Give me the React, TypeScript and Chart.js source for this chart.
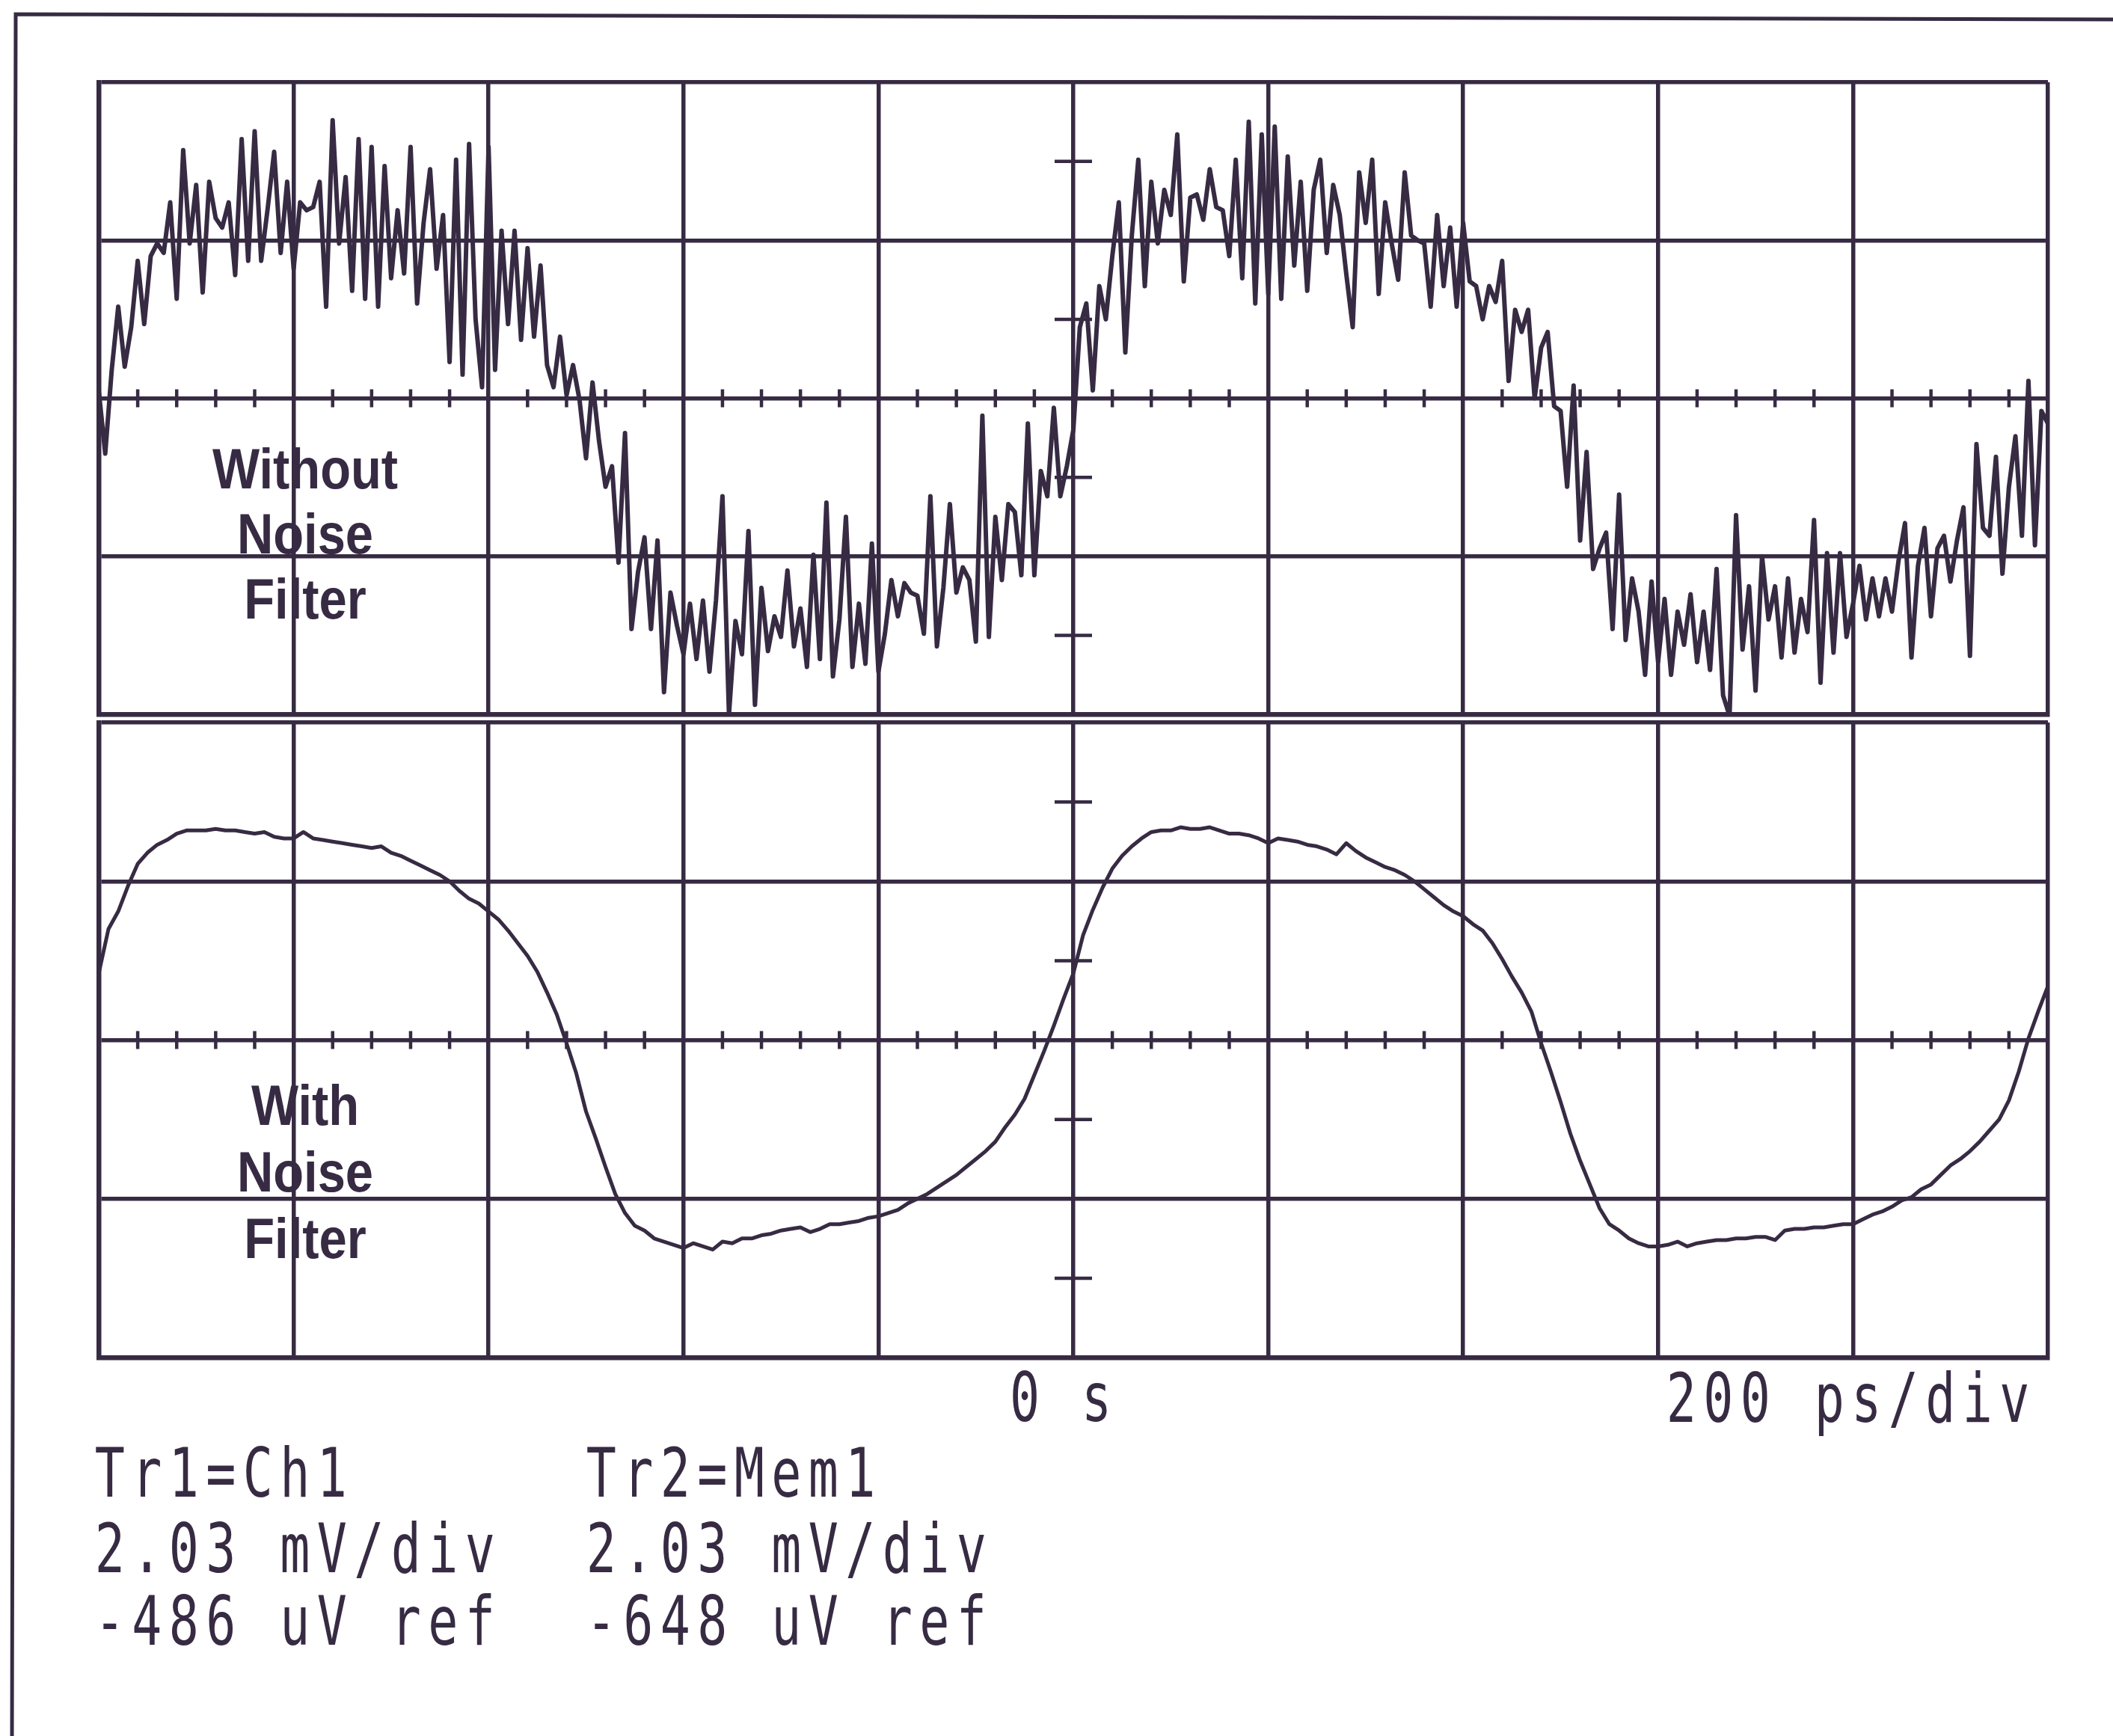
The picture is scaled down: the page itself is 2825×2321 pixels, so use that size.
import React, { useEffect, useRef } from 'react';
import { Chart, registerables } from 'chart.js';

Chart.register(...registerables);

// ---------- data (vertical values in divisions, relative to each graticule's centre line) ----------
// Trace 1 (Tr1 = Ch1, "Without Noise Filter"): 301 samples across 10 divisions
const topTraceValues = [
  0.05, -0.35, 0.18, 0.58, 0.2, 0.45, 0.87, 0.47, 0.9, 0.98,
  0.92, 1.24, 0.63, 1.57, 0.98, 1.35, 0.67, 1.37, 1.14, 1.08,
  1.24, 0.78, 1.64, 0.87, 1.69, 0.87, 1.2, 1.56, 0.92, 1.37,
  0.82, 1.24, 1.19, 1.21, 1.37, 0.58, 1.76, 0.98, 1.4, 0.68,
  1.64, 0.63, 1.59, 0.58, 1.47, 0.76, 1.19, 0.79, 1.59, 0.6,
  1.11, 1.45, 0.82, 1.16, 0.23, 1.51, 0.15, 1.61, 0.5, 0.07,
  1.59, 0.18, 1.06, 0.47, 1.06, 0.37, 0.95, 0.39, 0.84, 0.21,
  0.07, 0.39, 0.02, 0.21, -0.01, -0.38, 0.1, -0.27, -0.56, -0.43,
  -1.04, -0.22, -1.46, -1.1, -0.88, -1.46, -0.9, -1.86, -1.23, -1.44,
  -1.62, -1.3, -1.65, -1.28, -1.73, -1.28, -0.62, -2.0, -1.41, -1.62,
  -0.84, -1.94, -1.2, -1.6, -1.38, -1.51, -1.09, -1.57, -1.33, -1.7,
  -0.99, -1.65, -0.66, -1.76, -1.4, -0.75, -1.7, -1.3, -1.68, -0.92,
  -1.73, -1.49, -1.15, -1.38, -1.17, -1.23, -1.25, -1.49, -0.62, -1.57,
  -1.2, -0.67, -1.23, -1.07, -1.15, -1.54, -0.11, -1.51, -0.75, -1.15,
  -0.67, -0.72, -1.12, -0.16, -1.12, -0.46, -0.62, -0.06, -0.62, -0.43,
  -0.2, 0.45, 0.6, 0.05, 0.71, 0.5, 0.9, 1.24, 0.29, 1.03,
  1.51, 0.71, 1.37, 0.98, 1.32, 1.16, 1.67, 0.74, 1.27, 1.29,
  1.13, 1.45, 1.21, 1.19, 0.9, 1.51, 0.76, 1.75, 0.6, 1.67,
  0.66, 1.72, 0.63, 1.53, 0.84, 1.37, 0.68, 1.32, 1.51, 0.92,
  1.35, 1.16, 0.79, 0.45, 1.43, 1.11, 1.51, 0.66, 1.24, 0.98,
  0.75, 1.43, 1.03, 1.0, 0.98, 0.58, 1.16, 0.71, 1.08, 0.58,
  1.11, 0.74, 0.71, 0.5, 0.71, 0.61, 0.87, 0.11, 0.56, 0.42,
  0.56, 0.0, 0.32, 0.42, -0.05, -0.08, -0.56, 0.08, -0.9, -0.34,
  -1.08, -0.95, -0.85, -1.46, -0.61, -1.53, -1.14, -1.35, -1.75, -1.16,
  -1.67, -1.27, -1.75, -1.35, -1.56, -1.24, -1.67, -1.35, -1.72, -1.08,
  -1.88, -2.01, -0.74, -1.59, -1.19, -1.85, -1.0, -1.4, -1.19, -1.64,
  -1.14, -1.61, -1.27, -1.48, -0.77, -1.8, -0.98, -1.61, -0.98, -1.51,
  -1.3, -1.06, -1.4, -1.14, -1.38, -1.14, -1.35, -1.03, -0.79, -1.64,
  -1.06, -0.82, -1.38, -0.95, -0.87, -1.16, -0.9, -0.69, -1.63, -0.29,
  -0.82, -0.87, -0.37, -1.11, -0.56, -0.24, -0.87, 0.11, -0.93, -0.08,
  -0.16,
];

// Trace 2 (Tr2 = Mem1, "With Noise Filter"): 201 samples across 10 divisions
const bottomTraceValues = [
  0.42, 0.7, 0.81, 0.97, 1.11, 1.18, 1.23, 1.26, 1.3, 1.32,
  1.32, 1.32, 1.33, 1.32, 1.32, 1.31, 1.3, 1.31, 1.28, 1.27,
  1.27, 1.31, 1.27, 1.26, 1.25, 1.24, 1.23, 1.22, 1.21, 1.22,
  1.18, 1.16, 1.13, 1.1, 1.07, 1.04, 1.0, 0.94, 0.89, 0.86,
  0.81, 0.76, 0.69, 0.61, 0.53, 0.43, 0.3, 0.16, -0.02, -0.21,
  -0.45, -0.62, -0.8, -0.97, -1.09, -1.17, -1.2, -1.25, -1.27, -1.29,
  -1.31, -1.28, -1.3, -1.32, -1.27, -1.28, -1.25, -1.25, -1.23, -1.22,
  -1.2, -1.19, -1.18, -1.21, -1.19, -1.16, -1.16, -1.15, -1.14, -1.12,
  -1.11, -1.09, -1.07, -1.03, -1.0, -0.97, -0.93, -0.89, -0.85, -0.8,
  -0.75, -0.7, -0.64, -0.55, -0.47, -0.37, -0.22, -0.07, 0.09, 0.26,
  0.42, 0.66, 0.82, 0.96, 1.08, 1.16, 1.22, 1.27, 1.31, 1.32,
  1.32, 1.34, 1.33, 1.33, 1.34, 1.32, 1.3, 1.3, 1.29, 1.27,
  1.24, 1.27, 1.26, 1.25, 1.23, 1.22, 1.2, 1.17, 1.24, 1.19,
  1.15, 1.12, 1.09, 1.07, 1.04, 1.0, 0.95, 0.9, 0.85, 0.81,
  0.78, 0.73, 0.69, 0.61, 0.51, 0.4, 0.3, 0.18, -0.02, -0.2,
  -0.39, -0.59, -0.76, -0.91, -1.06, -1.16, -1.2, -1.25, -1.28, -1.3,
  -1.3, -1.29, -1.27, -1.3, -1.28, -1.27, -1.26, -1.26, -1.25, -1.25,
  -1.24, -1.24, -1.26, -1.2, -1.19, -1.19, -1.18, -1.18, -1.17, -1.16,
  -1.16, -1.13, -1.1, -1.08, -1.05, -1.01, -0.99, -0.94, -0.91, -0.85,
  -0.79, -0.75, -0.7, -0.64, -0.57, -0.5, -0.38, -0.2, 0.01, 0.18,
  0.34,
];

// Graticule: 10 horizontal divisions, 4 vertical divisions per trace window
const horizontalDivisions = [0, 10];
const verticalDivisions = [-2, 2];
const minorTickStep = 0.2;
const centreAxisHalfTicks = [-1.5, -0.5, 0.5, 1.5];

// Texts
const topTraceLabel = ['Without', 'Noise', 'Filter'];
const bottomTraceLabel = ['With', 'Noise', 'Filter'];
const timeLabels = ['0 s', '200 ps/div'];
const trace1Settings = ['Tr1=Ch1', '2.03 mV/div', '-486 uV ref'];
const trace2Settings = ['Tr2=Mem1', '2.03 mV/div', '-648 uV ref'];

// ---------- rendering ----------
const W = 2825;
const H = 2321;
const INK = '#372b43';

const toPoints = (vals: number[]) => {
  const span = horizontalDivisions[1] - horizontalDivisions[0];
  const step = span / (vals.length - 1);
  return vals.map((v, i) => ({ x: horizontalDivisions[0] + i * step, y: v }));
};

function drawMono(ctx: CanvasRenderingContext2D, text: string, left: number, baseline: number, cell: number) {
  ctx.save();
  ctx.fillStyle = INK;
  ctx.font = '90px "DejaVu Sans Mono", monospace';
  ctx.textAlign = 'center';
  ctx.textBaseline = 'alphabetic';
  for (let i = 0; i < text.length; i++) {
    const ch = text[i];
    if (ch === ' ') continue;
    ctx.save();
    ctx.translate(left + i * cell + cell / 2, baseline);
    ctx.scale(0.74, 1);
    ctx.fillText(ch, 0, 0);
    ctx.restore();
  }
  ctx.restore();
}

function drawBoldLabel(ctx: CanvasRenderingContext2D, lines: string[], cx: number, baselines: number[]) {
  ctx.save();
  ctx.fillStyle = INK;
  ctx.font = 'bold 76px "Liberation Sans", Arial, sans-serif';
  ctx.textAlign = 'center';
  ctx.textBaseline = 'alphabetic';
  lines.forEach((t, i) => {
    ctx.save();
    ctx.translate(cx, baselines[i]);
    ctx.scale(0.88, 1);
    ctx.fillText(t, 0, 0);
    ctx.restore();
  });
  ctx.restore();
}

const graticuleTicks = {
  id: 'graticuleTicks',
  beforeDatasetsDraw(chart: any) {
    const { ctx, scales } = chart;
    const x = scales.x;
    const y = scales.y;
    ctx.save();
    ctx.strokeStyle = INK;
    ctx.lineWidth = 4.5;
    ctx.lineCap = 'butt';
    const y0 = y.getPixelForValue(0);
    const n = Math.round((horizontalDivisions[1] - horizontalDivisions[0]) / minorTickStep);
    ctx.beginPath();
    for (let k = 1; k < n; k++) {
      if (k % 5 === 0) continue;
      const px = x.getPixelForValue(horizontalDivisions[0] + k * minorTickStep);
      ctx.moveTo(px, y0 - 12);
      ctx.lineTo(px, y0 + 12);
    }
    const xc = x.getPixelForValue((horizontalDivisions[0] + horizontalDivisions[1]) / 2);
    centreAxisHalfTicks.forEach((v) => {
      const py = y.getPixelForValue(v);
      ctx.moveTo(xc - 25, py);
      ctx.lineTo(xc + 25, py);
    });
    ctx.stroke();
    ctx.restore();
  },
};

function makeConfig(values: number[], padding: any, extra: any, traceWidth: number) {
  const gridScale = (min: number, max: number) => ({
    type: 'linear',
    min,
    max,
    ticks: { display: false, stepSize: 1 },
    grid: { color: INK, lineWidth: 5.5, drawTicks: false },
    border: { display: true, color: INK, width: 6.5 },
  });
  return {
    type: 'line',
    data: {
      datasets: [
        {
          data: toPoints(values),
          borderColor: INK,
          borderWidth: traceWidth,
          pointRadius: 0,
          tension: 0,
          fill: false,
          borderJoinStyle: 'round',
          borderCapStyle: 'round',
        },
      ],
    },
    options: {
      responsive: false,
      animation: false,
      devicePixelRatio: 1,
      layout: { padding },
      plugins: { legend: { display: false }, tooltip: { enabled: false } },
      events: [],
      scales: {
        x: gridScale(horizontalDivisions[0], horizontalDivisions[1]),
        y: gridScale(verticalDivisions[0], verticalDivisions[1]),
      },
    },
    plugins: [graticuleTicks, extra],
  } as any;
}

const pageDecor = {
  id: 'pageDecor',
  beforeDraw(chart: any) {
    const ctx = chart.ctx as CanvasRenderingContext2D;
    ctx.save();
    ctx.fillStyle = '#ffffff';
    ctx.fillRect(0, 0, W, H);
    ctx.strokeStyle = INK;
    ctx.lineWidth = 5;
    ctx.beginPath();
    ctx.moveTo(W, 26);
    ctx.lineTo(21, 19);
    ctx.lineTo(16, H);
    ctx.stroke();
    ctx.restore();
  },
  afterDatasetsDraw(chart: any) {
    drawBoldLabel(chart.ctx, topTraceLabel, 408, [653, 740, 827]);
  },
  afterDraw(chart: any) {
    const ctx = chart.ctx as CanvasRenderingContext2D;
    drawMono(ctx, timeLabels[0], 1346, 1900, 48);
    const cell = 49.5;
    drawMono(ctx, timeLabels[1], 2718 - timeLabels[1].length * cell, 1901, cell);
    trace1Settings.forEach((t, i) => drawMono(ctx, t, 122, [2001, 2102, 2199][i], cell));
    trace2Settings.forEach((t, i) => drawMono(ctx, t, 779, [2001, 2102, 2199][i], cell));
  },
};

const bottomDecor = {
  id: 'bottomDecor',
  afterDatasetsDraw(chart: any) {
    drawBoldLabel(chart.ctx, bottomTraceLabel, 408, [1504, 1593, 1682]);
  },
};

export default function App() {
  const topRef = useRef<HTMLCanvasElement>(null);
  const bottomRef = useRef<HTMLCanvasElement>(null);

  useEffect(() => {
    const a = new Chart(
      topRef.current as HTMLCanvasElement,
      makeConfig(topTraceValues, { left: 132, top: 110, right: W - 2738, bottom: H - 955 }, pageDecor, 6)
    );
    const b = new Chart(
      bottomRef.current as HTMLCanvasElement,
      makeConfig(bottomTraceValues, { left: 132, top: 966, right: W - 2738, bottom: H - 1815 }, bottomDecor, 5)
    );
    return () => {
      a.destroy();
      b.destroy();
    };
  }, []);

  const cs: React.CSSProperties = { position: 'absolute', left: 0, top: 0, width: W, height: H };
  return (
    <div style={{ position: 'fixed', left: 0, top: 0, width: W, height: H, background: '#ffffff', overflow: 'hidden' }}>
      <canvas ref={topRef} width={W} height={H} style={cs} />
      <canvas ref={bottomRef} width={W} height={H} style={cs} />
    </div>
  );
}
